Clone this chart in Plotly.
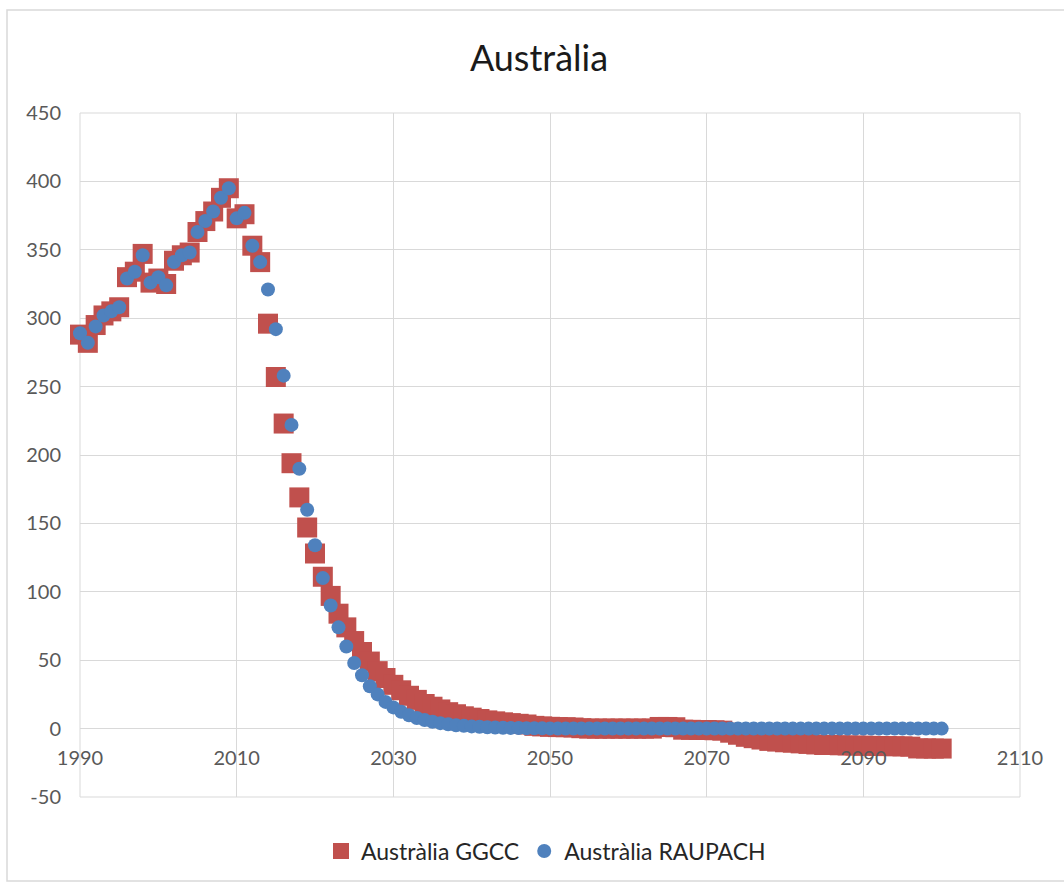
import plotly.graph_objects as go

# Annual series, 1990-2100
years = list(range(1990, 2101))

ggcc = [
    288, 282, 295, 302, 305, 308, 330, 334, 347, 326,
    329, 325, 342, 346, 348, 363, 371, 378, 388, 395,
    373, 376, 353, 341, 296, 257, 223, 194, 169, 147,
    128, 111, 97, 84, 74, 64, 56, 49, 42, 37,
    32, 28, 24, 21, 18, 16, 14, 12, 10.5, 9,
    8, 7, 6, 5.3, 4.6, 4, 3.5, 3, 2, 1.6,
    1.3, 1.1, 1, 0.8, 0.3, 0, 0, 0, 0, 0,
    0, 0, 0, 0, 1.2, 1.2, 1, -0.8, -0.9, -1,
    -1, -1.2, -1.5, -3, -4.5, -6, -7, -8, -9, -9.5,
    -10, -10.3, -10.8, -11.2, -11.6, -12, -12, -12.2, -12.3, -12.4,
    -12.5, -12.6, -12.7, -12.8, -12.9, -13, -13.2, -14.5, -14.5, -14.6,
    -14.6,
]

raupach = [
    289, 282, 294, 302, 305, 308, 329, 334, 346, 326,
    330, 324, 341, 346, 348, 363, 371, 378, 388, 395,
    373, 377, 353, 341, 321, 292, 258, 222, 190, 160,
    134, 110, 90, 74, 60, 48, 39, 31, 25, 19.5,
    15.5, 12.3, 9.8, 7.8, 6.2, 5, 4, 3.2, 2.5, 2,
    1.6, 1.3, 1, 0.8, 0.65, 0.5, 0.4, 0.3, 0.25, 0.2,
    0.15, 0.1, 0.1, 0.1, 0.1, 0.1, 0.1, 0.1, 0.1, 0.1,
    0.1, 0.05, 0.05, 0.05, 0.05, 0.05, 0.05, 0.05, 0.05, 0.05,
    0.05, 0.05, 0.05, 0.05, 0.05, 0.05, 0.05, 0.05, 0.05, 0.05,
    0.05, 0, 0, 0, 0, 0, 0, 0, 0, 0,
    0, 0, 0, 0, 0, 0, 0, 0, 0, 0,
    0,
]

x_ticks = [1990, 2010, 2030, 2050, 2070, 2090, 2110]
y_ticks = [-50, 0, 50, 100, 150, 200, 250, 300, 350, 400, 450]

RED = "#C0504D"
BLUE = "#4F81BD"
GRID = "#D9D9D9"
FONT = "Lato, 'Open Sans', sans-serif"

fig = go.Figure()
fig.add_trace(go.Scatter(
    x=years, y=ggcc, mode="markers", name="Austràlia GGCC",
    marker=dict(symbol="square", size=20, color=RED, line=dict(width=0)),
    cliponaxis=False,
))
fig.add_trace(go.Scatter(
    x=years, y=raupach, mode="markers", name="Austràlia RAUPACH",
    marker=dict(symbol="circle", size=14, color=BLUE, line=dict(width=0)),
    cliponaxis=False,
))

W, H = 1064, 884
L, R, T, B = 80, 44, 113, 87
ph = H - T - B
pw = W - L - R


def px_x(p):
    return (p - L) / pw


def px_y(p):
    return (H - B - p) / ph


fig.update_layout(
    width=W, height=H,
    margin=dict(l=L, r=R, t=T, b=B),
    paper_bgcolor="white", plot_bgcolor="white",
    font=dict(family=FONT, color="#595959"),
    title=dict(
        text="Austràlia", x=539 / W, xref="container", xanchor="center",
        y=1 - 58 / H, yref="container", yanchor="middle",
        font=dict(size=36, color="#1A1A1A", family=FONT),
    ),
    showlegend=True,
    legend=dict(
        orientation="h", x=px_x(546), xanchor="center",
        y=px_y(851), yanchor="middle",
        font=dict(size=23, color="#262626", family=FONT),
        bgcolor="rgba(0,0,0,0)",
    ),
    xaxis=dict(
        range=[1990, 2110], tickvals=x_ticks, ticktext=[str(v) for v in x_ticks],
        showgrid=True, gridcolor=GRID, gridwidth=1,
        zeroline=False, showline=False, ticks="",
        anchor="free", position=px_y(728.6),
        tickfont=dict(size=20, color="#595959"),
        ticklabelstandoff=15,
    ),
    yaxis=dict(
        range=[-50, 450], tickvals=y_ticks, ticktext=[str(v) for v in y_ticks],
        showgrid=True, gridcolor=GRID, gridwidth=1,
        zeroline=True, zerolinecolor=GRID, zerolinewidth=1,
        showline=False, ticks="",
        tickfont=dict(size=20, color="#595959"),
        ticklabelstandoff=18,
    ),
    shapes=[
        # plot-area outline
        dict(type="rect", xref="paper", yref="paper", x0=0, x1=1, y0=0, y1=1,
             line=dict(color=GRID, width=1), layer="below"),
        # chart frame
        dict(type="rect", xref="paper", yref="paper",
             x0=px_x(7), x1=px_x(1075), y0=px_y(881), y1=px_y(10),
             line=dict(color=GRID, width=1.5), layer="below"),
    ],
)

fig.write_html("out.html")
